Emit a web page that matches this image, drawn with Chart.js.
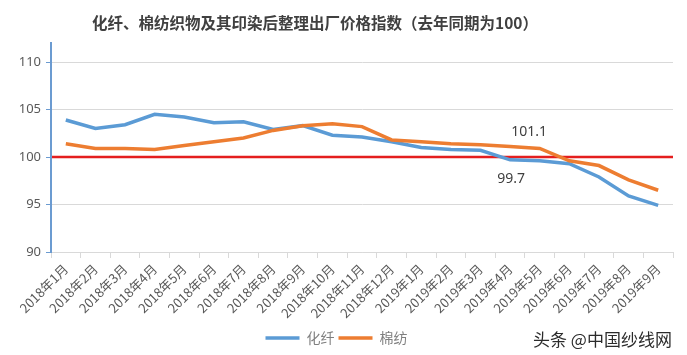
<!DOCTYPE html>
<html>
<head>
<meta charset="utf-8">
<script src="https://cdn.jsdelivr.net/npm/chart.js@4/dist/chart.umd.min.js"></script>
<style>
  html, body { margin: 0; padding: 0; background: #fff; }
  #wrap { position: relative; width: 687px; height: 355px; overflow: hidden; }
  #title { position: absolute; left: 0; width: 630px; top: 11px; text-align: center;
    font: bold 15.5px "Noto Sans CJK SC", sans-serif; color: #404040; white-space: nowrap; }
  #mark { position: absolute; left: 533px; top: 326px; font: 17px "Noto Sans CJK SC", sans-serif;
    color: #2b2b2b; white-space: nowrap; text-shadow: 0 0 1px #fff; }
</style>
</head>
<body>
<div id="wrap">
  <canvas id="c" width="687" height="355"></canvas>
  <div id="title">化纤、棉纺织物及其印染后整理出厂价格指数（去年同期为100）</div>
  <div id="mark">头条 @中国纱线网</div>
</div>
<script>
const categories = ['2018年1月','2018年2月','2018年3月','2018年4月','2018年5月','2018年6月','2018年7月','2018年8月','2018年9月','2018年10月','2018年11月','2018年12月','2019年1月','2019年2月','2019年3月','2019年4月','2019年5月','2019年6月','2019年7月','2019年8月','2019年9月'];
const chemFiber = [103.9, 103.0, 103.4, 104.5, 104.2, 103.6, 103.7, 102.9, 103.3, 102.3, 102.1, 101.6, 101.0, 100.8, 100.7, 99.7, 99.6, 99.3, 97.9, 95.9, 94.9];
const cotton = [101.4, 100.9, 100.9, 100.8, 101.2, 101.6, 102.0, 102.8, 103.3, 103.5, 103.2, 101.8, 101.6, 101.4, 101.3, 101.1, 100.9, 99.6, 99.1, 97.6, 96.5];
const seriesNames = ['化纤', '棉纺'];
const baseline = 100;
const yTicks = [90, 95, 100, 105, 110];
// annotated values: [datasetIndex, categoryIndex]
const annotated = [[1, 15], [0, 15]];

const baselinePlugin = {
  id: 'baseline',
  beforeDatasetsDraw(chart) {
    const {ctx, chartArea, scales} = chart;
    const y = scales.y.getPixelForValue(baseline);
    ctx.save();
    ctx.strokeStyle = '#e41e1e';
    ctx.lineWidth = 2.5;
    ctx.beginPath();
    ctx.moveTo(chartArea.left + 1, y);
    ctx.lineTo(chartArea.right, y);
    ctx.stroke();
    ctx.restore();
  }
};

const valueLabelPlugin = {
  id: 'valueLabels',
  afterDatasetsDraw(chart) {
    const {ctx} = chart;
    ctx.save();
    ctx.font = '14px "Noto Sans", "Noto Sans CJK SC", sans-serif';
    ctx.fillStyle = '#404040';
    ctx.textAlign = 'center';
    ctx.textBaseline = 'middle';
    annotated.forEach(([di, ci]) => {
      const pt = chart.getDatasetMeta(di).data[ci];
      const v = chart.data.datasets[di].data[ci];
      const above = di === 1;
      ctx.fillText(v.toFixed(1), pt.x + (above ? 19 : 1), pt.y + (above ? -15 : 19));
    });
    ctx.restore();
  }
};

new Chart(document.getElementById('c'), {
  type: 'line',
  data: {
    labels: categories,
    datasets: [
      { label: seriesNames[0], data: chemFiber, borderColor: '#5b9bd5', backgroundColor: '#5b9bd5',
        borderWidth: 3.5, pointRadius: 0, tension: 0, order: 1, pointStyle: 'line' },
      { label: seriesNames[1], data: cotton, borderColor: '#ed7d31', backgroundColor: '#ed7d31',
        borderWidth: 3.5, pointRadius: 0, tension: 0, order: 0, pointStyle: 'line' }
    ]
  },
  options: {
    responsive: false,
    devicePixelRatio: 1,
    animation: false,
    layout: { padding: { top: 43, right: 14, left: 0, bottom: 0 } },
    plugins: {
      tooltip: { enabled: false },
      title: { display: false },
      legend: {
        position: 'bottom',
        labels: {
          usePointStyle: true,
          pointStyleWidth: 34,
          padding: 4,
          color: '#7f7f7f',
          font: { size: 14, family: '"Noto Sans CJK SC", sans-serif' },
          sort: (a, b) => a.datasetIndex - b.datasetIndex
        }
      }
    },
    scales: {
      x: {
        offset: true,
        grid: { display: true, drawOnChartArea: false, offset: true, tickLength: 6, color: '#d9d9d9' },
        border: { color: '#d9d9d9', width: 1 },
        ticks: { autoSkip: false, minRotation: 45, maxRotation: 45, color: '#595959', padding: 3,
          font: { size: 13, family: '"Noto Sans CJK SC", sans-serif' } },
        afterFit(scale) { scale.height = 75; }
      },
      y: {
        min: 90, max: 112,
        afterBuildTicks(scale) { scale.ticks = yTicks.map(v => ({ value: v })); },
        grid: { color: '#d9d9d9', tickColor: '#6b9bd1', tickLength: 5 },
        border: { color: '#6b9bd1', width: 2 },
        ticks: { color: '#595959', padding: 5, font: { size: 13, family: '"Noto Sans", sans-serif' } },
        afterFit(scale) { scale.width = 51; }
      }
    }
  },
  plugins: [baselinePlugin, valueLabelPlugin]
});
</script>
</body>
</html>
